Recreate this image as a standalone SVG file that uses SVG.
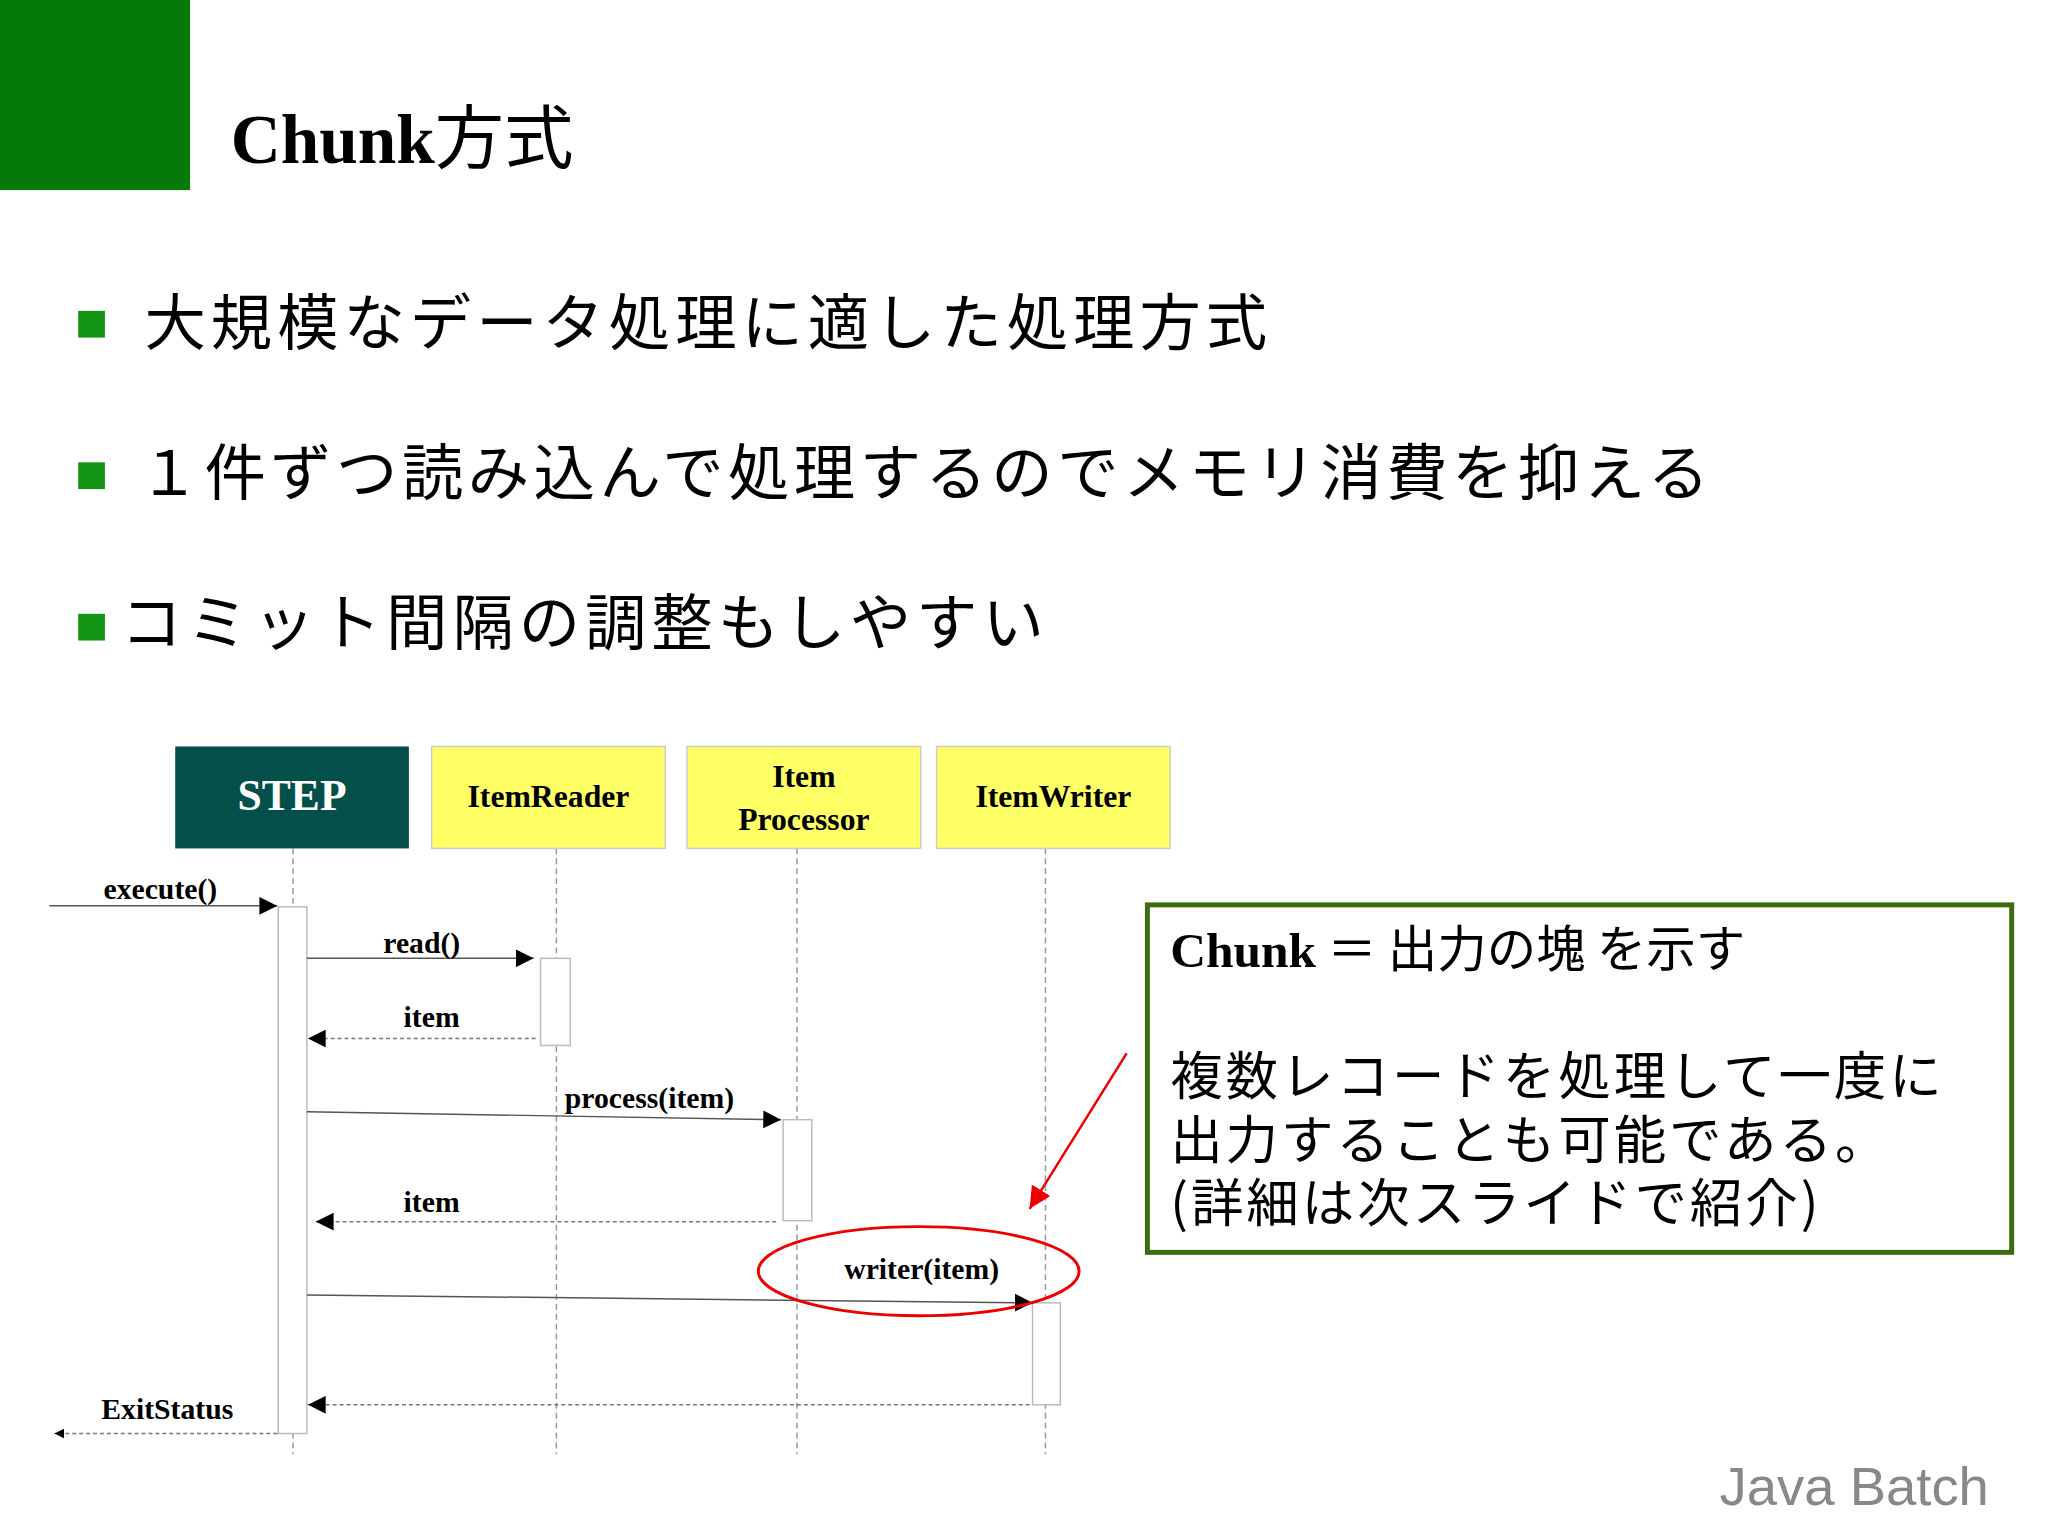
<svg xmlns="http://www.w3.org/2000/svg" width="2048" height="1535" viewBox="0 0 2048 1535">
<defs>
<marker id="ah" viewBox="0 0 10 10" refX="10" refY="5" markerWidth="10" markerHeight="10" markerUnits="userSpaceOnUse" orient="auto"><path d="M0,0L10,5L0,10z" fill="#000"/></marker>
<marker id="ahs" viewBox="0 0 10 10" refX="10" refY="5" markerWidth="18" markerHeight="18" markerUnits="userSpaceOnUse" orient="auto"><path d="M0,0L10,5L0,10z" fill="#000"/></marker>
<marker id="ahr" viewBox="0 0 10 10" refX="10" refY="5" markerWidth="22" markerHeight="22" markerUnits="userSpaceOnUse" orient="auto"><path d="M0,0L10,5L0,10z" fill="#e00"/></marker>
</defs>
<style>
.jp{font-family:"Noto Sans CJK JP","Noto Sans",sans-serif;fill:#000}
.bl{font-family:"Liberation Serif","DejaVu Serif",serif;font-weight:bold;fill:#000}
.ll{stroke:#999;stroke-width:1.5;stroke-dasharray:6,4}
.act{fill:#fff;stroke:#bbb;stroke-width:1.5}
.msg{stroke:#555;stroke-width:1.5;fill:none}
.ret{stroke:#777;stroke-width:1.5;stroke-dasharray:4,3;fill:none}
.hd{fill:#ffff66;stroke:#ccc;stroke-width:1.5}
</style>
<rect width="2048" height="1535" fill="#fff"/>
<g transform="scale(0.99)">
<rect x="0" y="0" width="192" height="192" fill="#067a06"/>
<text x="233" y="165" class="bl" font-size="70">Chunk<tspan class="jp" font-weight="normal" style="font-family:'Noto Sans CJK JP',sans-serif">方式</tspan></text>
<g id="bullets">
<rect x="79" y="314" width="27" height="27" fill="#149414"/>
<text x="146" y="348" class="jp" font-size="62" letter-spacing="5">大規模なデータ処理に適した処理方式</text>
<rect x="79" y="467" width="27" height="27" fill="#149414"/>
<text x="140" y="500" class="jp" font-size="62" letter-spacing="4.5">１件ずつ読み込んで処理するのでメモリ消費を抑える</text>
<rect x="79" y="620" width="27" height="27" fill="#149414"/>
<text x="122" y="652" class="jp" font-size="62" letter-spacing="5">コミット間隔の調整もしやすい</text>
</g>
<g id="lifelines">
<line x1="296" y1="857" x2="296" y2="1469" class="ll"/>
<line x1="562" y1="857" x2="562" y2="1469" class="ll"/>
<line x1="805" y1="857" x2="805" y2="1469" class="ll"/>
<line x1="1056" y1="857" x2="1056" y2="1469" class="ll"/>
</g>
<g id="step"><rect x="177" y="754" width="236" height="103" fill="#034f4a"/><text x="295" y="818" text-anchor="middle" class="bl" font-size="44" style="fill:#fff">STEP</text></g>
<g id="reader"><rect x="436" y="754" width="236" height="103" class="hd"/><text x="554" y="815" text-anchor="middle" class="bl" font-size="32">ItemReader</text></g>
<g id="processor"><rect x="694" y="754" width="236" height="103" class="hd"/><text x="812" y="795" text-anchor="middle" class="bl" font-size="32">Item</text><text x="812" y="838" text-anchor="middle" class="bl" font-size="32">Processor</text></g>
<g id="writer"><rect x="946" y="754" width="236" height="103" class="hd"/><text x="1064" y="815" text-anchor="middle" class="bl" font-size="32">ItemWriter</text></g>
<g id="activations">
<rect x="281" y="916" width="29" height="532" class="act"/>
<rect x="546" y="968" width="30" height="88" class="act"/>
<rect x="791" y="1131" width="29" height="102" class="act"/>
<rect x="1043" y="1316" width="28" height="103" class="act"/>
</g>
<g id="connectors">
<line x1="50" y1="915" x2="280" y2="915" class="msg" marker-end="url(#ahs)"/>
<line x1="310" y1="968" x2="539" y2="968" class="msg" marker-end="url(#ahs)"/>
<line x1="541" y1="1049" x2="311" y2="1049" class="ret" marker-end="url(#ahs)"/>
<line x1="310" y1="1123" x2="789" y2="1131" class="msg" marker-end="url(#ahs)"/>
<line x1="784" y1="1234" x2="319" y2="1234" class="ret" marker-end="url(#ahs)"/>
<line x1="310" y1="1308" x2="1043" y2="1316" class="msg" marker-end="url(#ahs)"/>
<line x1="1040" y1="1419" x2="311" y2="1419" class="ret" marker-end="url(#ahs)"/>
<line x1="280" y1="1448" x2="55" y2="1448" class="ret" marker-end="url(#ah)"/>
<line x1="1138" y1="1064" x2="1040" y2="1221" stroke="#e00" stroke-width="2.5" marker-end="url(#ahr)"/>
</g>
<g id="labels">
<text x="162" y="908" text-anchor="middle" class="bl" font-size="30">execute()</text>
<text x="426" y="963" text-anchor="middle" class="bl" font-size="30">read()</text>
<text x="436" y="1037" text-anchor="middle" class="bl" font-size="30">item</text>
<text x="656" y="1119" text-anchor="middle" class="bl" font-size="30">process(item)</text>
<text x="436" y="1224" text-anchor="middle" class="bl" font-size="30">item</text>
<text x="931" y="1292" text-anchor="middle" class="bl" font-size="30">writer(item)</text>
<text x="169" y="1433" text-anchor="middle" class="bl" font-size="30">ExitStatus</text>
</g>
<ellipse cx="928" cy="1284" rx="162" ry="45" fill="none" stroke="#e00" stroke-width="3"/>
<g id="note">
<rect x="1159" y="914" width="873" height="351" fill="#fff" stroke="#3d6b10" stroke-width="5"/>
<text x="1182" y="977" class="bl" font-size="50">Chunk<tspan class="jp" font-weight="normal" style="font-family:'Noto Sans CJK JP',sans-serif"> ＝ 出力の塊 を示す</tspan></text>
<text x="1182" y="1106" class="jp" font-size="53" letter-spacing="3">複数レコードを処理して一度に</text>
<text x="1182" y="1171" class="jp" font-size="53" letter-spacing="3">出力することも可能である。</text>
<text x="1182" y="1234" class="jp" font-size="53" letter-spacing="3">(詳細は次スライドで紹介)</text>
</g>
<text x="2009" y="1520" text-anchor="end" font-family="Liberation Sans,sans-serif" font-size="55" fill="#888">Java Batch</text>
</g>
</svg>
